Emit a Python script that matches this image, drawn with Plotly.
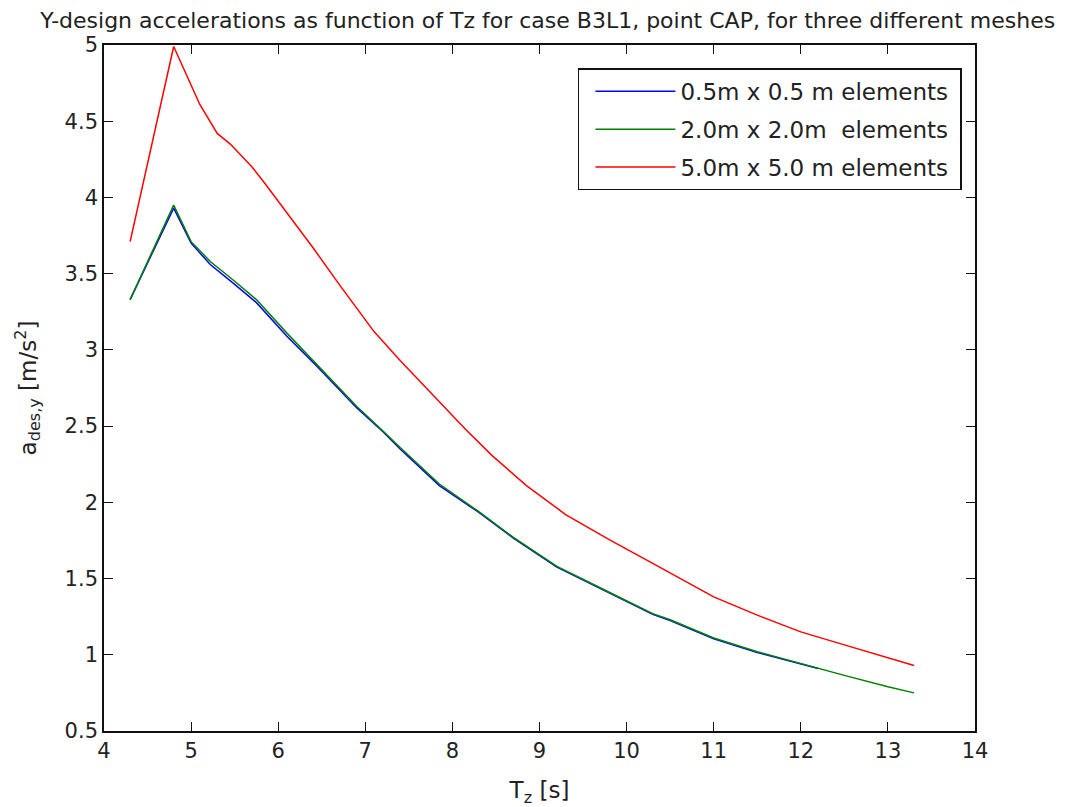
import plotly.graph_objects as go

# Data
red_x = [4.3, 4.8, 5.1, 5.3, 5.45, 5.7, 5.85, 6.15, 6.4, 6.7, 7.1, 7.4, 7.8, 8.15, 8.45,
         8.85, 9.3, 9.8, 10.3, 11.0, 11.5, 12.0, 12.5, 13.0, 13.3]
red_y = [3.71, 4.99, 4.61, 4.42, 4.35, 4.20, 4.09, 3.86, 3.67, 3.43, 3.12, 2.93, 2.69, 2.48, 2.31,
         2.11, 1.92, 1.755, 1.60, 1.38, 1.26, 1.15, 1.065, 0.98, 0.93]

green_x = [4.3, 4.8, 5.0, 5.22, 5.5, 5.75, 6.1, 6.45, 6.9, 7.2, 7.4, 7.85, 8.3, 8.7, 9.2,
           9.8, 10.3, 10.5, 11.0, 11.5, 12.0, 12.5, 13.0, 13.3]
green_y = [3.33, 3.95, 3.71, 3.58, 3.45, 3.33, 3.11, 2.90, 2.63, 2.47, 2.36, 2.12, 1.94, 1.77, 1.58,
           1.41, 1.27, 1.23, 1.11, 1.02, 0.94, 0.865, 0.79, 0.75]

blue_x = [4.3, 4.8, 5.0, 5.22, 5.5, 5.75, 6.1, 6.45, 6.9, 7.2, 7.4, 7.85, 8.3, 8.7, 9.2,
          9.8, 10.3, 10.5, 11.0, 11.5, 12.0, 12.2]
blue_y = [3.33, 3.93, 3.70, 3.56, 3.43, 3.31, 3.09, 2.89, 2.62, 2.465, 2.35, 2.11, 1.935, 1.765, 1.575,
          1.405, 1.265, 1.225, 1.105, 1.015, 0.94, 0.91]

names = ["0.5m x 0.5 m elements", "2.0m x 2.0m  elements", "5.0m x 5.0 m elements"]
x_ticks = list(range(4, 15))
y_ticks = [0.5, 1, 1.5, 2, 2.5, 3, 3.5, 4, 4.5, 5]

FONT = "DejaVu Sans"
TXT = "#222"
SIZE = 21
BIG = 23

fig = go.Figure()
for i, (xs, ys, col) in enumerate([(blue_x, blue_y, "rgb(0,0,255)"),
                                   (green_x, green_y, "rgb(0,128,0)"),
                                   (red_x, red_y, "rgb(255,0,0)")]):
    fig.add_trace(go.Scatter(x=xs, y=ys, mode="lines",
                             name=names[i].replace("  ", "&nbsp; ") + "&nbsp;",
                             legendgroup=f"g{i}",
                             line=dict(color=col, width=1.5)))

axis_common = dict(showgrid=False, zeroline=False, showline=True, linecolor="#111",
                   linewidth=1.6, mirror="ticks", ticks="inside", ticklen=9,
                   tickcolor="#111", tickwidth=1.3,
                   tickfont=dict(family=FONT, size=SIZE, color=TXT))

fig.update_layout(
    width=1073, height=807,
    margin=dict(l=96, r=106, t=37, b=84),
    paper_bgcolor="white", plot_bgcolor="white",
    title=dict(text="Y-design accelerations as function of Tz for case B3L1, point CAP, for three different meshes",
               x=0.503, xanchor="center", y=0.994, yanchor="top",
               font=dict(family=FONT, size=22, color=TXT)),
    xaxis=dict(range=[4, 14], tickvals=x_ticks,
               title=dict(text="T<sub>z</sub> [s]", font=dict(family=FONT, size=BIG, color=TXT), standoff=20),
               **axis_common),
    yaxis=dict(range=[0.5, 5], tickvals=y_ticks,
               ticktext=[f"{v:g}" for v in y_ticks],
               title=dict(text="a<sub>des,y</sub> [m/s<sup>2</sup>]", font=dict(family=FONT, size=BIG, color=TXT), standoff=22),
               **axis_common),
    legend=dict(x=0.985, xanchor="right", y=0.966, yanchor="top",
                bgcolor="white", bordercolor="#111", borderwidth=1.5,
                font=dict(family=FONT, size=BIG, color=TXT),
                traceorder="grouped", tracegroupgap=5, itemwidth=80,
                indentation=11),
    showlegend=True,
)

fig.write_html("out.html")
